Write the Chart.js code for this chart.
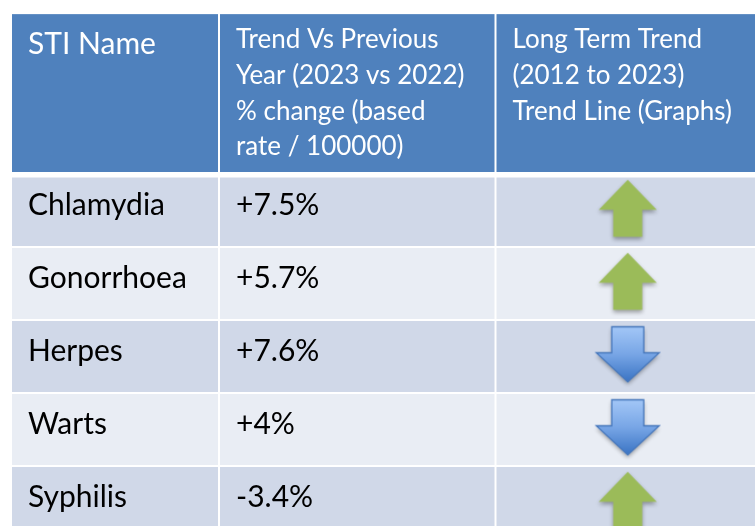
<!DOCTYPE html>
<html><head><meta charset="utf-8">
<script src="https://cdn.jsdelivr.net/npm/chart.js@4.4.1/dist/chart.umd.min.js"></script>
<style>html,body{margin:0;padding:0;background:#fff;overflow:hidden}</style>
</head><body>
<canvas id="c" width="755" height="526"></canvas>
<script>
// ---- data ----
const infections = ['Chlamydia', 'Gonorrhoea', 'Herpes', 'Warts', 'Syphilis'];
const changeVsPrevYear = [7.5, 5.7, 7.6, 4, -3.4];
const longTermTrend = ['up', 'up', 'down', 'down', 'up'];
const headerLabels = [
  ['STI Name'],
  ['Trend Vs Previous', 'Year (2023 vs 2022)', '% change (based', 'rate / 100000)'],
  ['Long Term Trend', '(2012 to 2023)', 'Trend Line (Graphs)']
];

// ---- layout (scale units) ----
const colEdges = [12, 219, 495.5, 760];   // x scale units
const headerTop = -2.19;                  // y scale units; body row i spans [i, i+1]
const headerColor = '#4F81BD';
const rowColors = ['#D0D8E8', '#E9EDF4'];
const FONT = 'Lato, "Open Sans", sans-serif';

function fmt(v) { return (v > 0 ? '+' : '') + v + '%'; }

function makeArrow(dir) {
  const cv = document.createElement('canvas');
  cv.width = 80; cv.height = 72;
  const g = cv.getContext('2d');
  const cx = 40, cy = 36;
  g.beginPath();
  if (dir === 'up') {
    g.moveTo(cx, cy - 28.5);
    g.lineTo(cx + 29, cy + 1.5);
    g.lineTo(cx + 14.5, cy + 1.5);
    g.lineTo(cx + 14.5, cy + 28.5);
    g.lineTo(cx - 14.5, cy + 28.5);
    g.lineTo(cx - 14.5, cy + 1.5);
    g.lineTo(cx - 29, cy + 1.5);
  } else {
    g.moveTo(cx - 16, cy - 27.5);
    g.lineTo(cx + 16, cy - 27.5);
    g.lineTo(cx + 16, cy - 1.5);
    g.lineTo(cx + 31.5, cy - 1.5);
    g.lineTo(cx, cy + 27.5);
    g.lineTo(cx - 31.5, cy - 1.5);
    g.lineTo(cx - 16, cy - 1.5);
  }
  g.closePath();
  g.save();
  g.shadowColor = 'rgba(0,0,0,0.35)';
  g.shadowBlur = 4;
  g.shadowOffsetY = 2.5;
  if (dir === 'up') {
    g.fillStyle = '#9BBB59';
  } else {
    const grad = g.createLinearGradient(0, cy - 27.5, 0, cy + 27.5);
    grad.addColorStop(0, '#A3C7F7');
    grad.addColorStop(0.5, '#78A6E6');
    grad.addColorStop(1, '#3A74C4');
    g.fillStyle = grad;
  }
  g.fill();
  g.restore();
  if (dir !== 'up') {
    g.lineWidth = 1.3;
    g.strokeStyle = '#4677BC';
    g.stroke();
  }
  return cv;
}
const arrowImgs = { up: makeArrow('up'), down: makeArrow('down') };

const tablePlugin = {
  id: 'tablePlugin',
  beforeDatasetsDraw(chart) {
    const { ctx, scales: { x, y } } = chart;
    ctx.save();
    // header cells
    for (let c = 0; c < 3; c++) {
      const l = x.getPixelForValue(colEdges[c]) + (c > 0 ? 1 : 0);
      const r = x.getPixelForValue(colEdges[c + 1]) - 1;
      const t = y.getPixelForValue(headerTop);
      const b = y.getPixelForValue(0) - 2;
      ctx.fillStyle = headerColor;
      ctx.fillRect(l, t, r - l, b - t);
    }
    // body cells
    infections.forEach((name, i) => {
      const t = y.getPixelForValue(i) + (i === 0 ? 3.5 : 1);
      const b = y.getPixelForValue(i + 1) - 1;
      for (let c = 0; c < 3; c++) {
        const l = x.getPixelForValue(colEdges[c]) + (c > 0 ? 1 : 0);
        const r = x.getPixelForValue(colEdges[c + 1]) - 1;
        ctx.fillStyle = rowColors[i % 2];
        ctx.fillRect(l, t, r - l, b - t);
      }
    });
    // header text
    ctx.fillStyle = '#FFFFFF';
    ctx.textBaseline = 'alphabetic';
    ctx.textAlign = 'left';
    const hTop = y.getPixelForValue(headerTop);
    ctx.font = '30px ' + FONT;
    ctx.fillText(headerLabels[0][0], x.getPixelForValue(colEdges[0]) + 16, hTop + 40);
    ctx.font = '26px ' + FONT;
    for (let c = 1; c < 3; c++) {
      headerLabels[c].forEach((line, k) => {
        ctx.fillText(line, x.getPixelForValue(colEdges[c]) + 17, hTop + 34 + k * 35.7);
      });
    }
    // body text
    ctx.fillStyle = '#000000';
    ctx.font = '30px ' + FONT;
    infections.forEach((name, i) => {
      const by = y.getPixelForValue(i + 0.562);
      ctx.fillText(name, x.getPixelForValue(colEdges[0]) + 16, by);
      ctx.fillText(fmt(changeVsPrevYear[i]), x.getPixelForValue(colEdges[1]) + 17, by);
    });
    ctx.restore();
  }
};

new Chart(document.getElementById('c'), {
  type: 'scatter',
  data: {
    datasets: [{
      label: 'Long Term Trend',
      data: longTermTrend.map((d, i) => ({ x: (colEdges[2] + colEdges[3]) / 2, y: i + 0.47 })),
      pointStyle: (ctx) => arrowImgs[longTermTrend[ctx.dataIndex]],
      pointRadius: 30,
      backgroundColor: 'transparent',
      borderColor: 'transparent',
      clip: false
    }]
  },
  options: {
    responsive: false,
    devicePixelRatio: 1,
    animation: false,
    events: [],
    layout: { padding: 0, autoPadding: false },
    plugins: { legend: { display: false }, tooltip: { enabled: false } },
    scales: {
      x: { type: 'linear', min: 0, max: 755, display: false },
      y: { type: 'linear', min: -2.3836, max: 4.8219, reverse: true, display: false }
    }
  },
  plugins: [tablePlugin]
});
</script>
</body></html>
